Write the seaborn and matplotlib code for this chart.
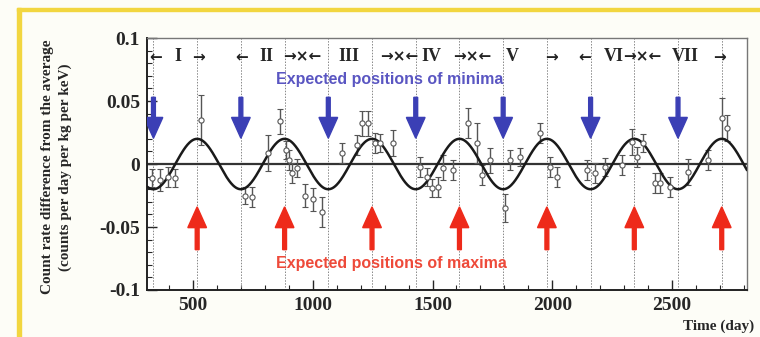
import numpy as np
import pandas as pd
import matplotlib
matplotlib.use("Agg")
import matplotlib.pyplot as plt
from matplotlib.patches import Rectangle, FancyArrow
import seaborn as sns

# Residual rate measurements: time (day), residual (cpd/kg/keV), error
days = [329, 362, 396, 425, 533, 717, 746, 813, 863, 888, 901, 913, 934, 968,
        1001, 1039, 1122, 1185, 1206, 1231, 1260, 1281, 1335, 1448, 1477, 1498,
        1523, 1544, 1586, 1648, 1686, 1707, 1740, 1803, 1824, 1865, 1949, 1991,
        2020, 2145, 2179, 2220, 2291, 2333, 2354, 2379, 2429, 2450, 2492, 2567,
        2650, 2709, 2730]
residuals = [-0.011, -0.0127, -0.0103, -0.011, 0.035, -0.025, -0.026, 0.0087,
             0.034, 0.011, 0.003, -0.007, -0.003, -0.025, -0.028, -0.038,
             0.009, 0.015, 0.0325, 0.0325, 0.0167, 0.0167, 0.0167, -0.0024,
             -0.0103, -0.019, -0.018, -0.003, -0.005, 0.0325, 0.0167, -0.009,
             0.003, -0.035, 0.003, 0.0056, 0.0246, -0.0024, -0.0103, -0.0048,
             -0.007, -0.0024, -0.0008, 0.0175, 0.0056, 0.0167, -0.015, -0.015,
             -0.018, -0.0063, 0.003, 0.0365, 0.0286]
errors = [0.007, 0.009, 0.008, 0.007, 0.02, 0.007, 0.008, 0.014, 0.01, 0.007,
          0.008, 0.008, 0.007, 0.009, 0.009, 0.012, 0.008, 0.008, 0.01, 0.01,
          0.008, 0.007, 0.01, 0.008, 0.007, 0.007, 0.008, 0.01, 0.008, 0.012,
          0.016, 0.008, 0.01, 0.011, 0.008, 0.007, 0.008, 0.008, 0.008, 0.008,
          0.008, 0.007, 0.008, 0.01, 0.008, 0.007, 0.008, 0.008, 0.008, 0.01,
          0.008, 0.016, 0.01]

# Expected annual modulation: A cos(2*pi/T (t - t0))
amplitude = 0.0200
period = 365.0
phase = 152.5
maxima = [517.5, 882.5, 1247.5, 1612.5, 1977.5, 2342.5, 2707.5]
minima = [335, 700, 1065, 1430, 1795, 2160, 2525]

# Annual cycle numerals and the arrows marking each cycle's span
cycle_numerals = [(435, "I"), (805, "II"), (1150, "III"), (1495, "IV"),
                  (1835, "V"), (2255, "VI"), (2555, "VII")]
cycle_arrows = [(345, "←"), (525, "→"), (705, "←"), (955, "→×←"),
                (1360, "→×←"), (1665, "→×←"), (1995, "→"),
                (2135, "←"), (2375, "→×←"), (2700, "→")]

x_ticks = [500, 1000, 1500, 2000, 2500]
y_ticks = [-0.1, -0.05, 0, 0.05, 0.1]
y_tick_labels = ["-0.1", "-0.05", "0", "0.05", "0.1"]

sns.set_style("ticks")
serif = ["Liberation Serif", "DejaVu Serif"]
plt.rcParams["font.family"] = serif

fig = plt.figure(figsize=(7.6, 3.37), dpi=100)
fig.patch.set_facecolor("#fdfdf7")
# golden frame on the left and top edges
fig.add_artist(Rectangle((0.023, 0.0), 0.005, 0.975, transform=fig.transFigure,
                         color="#f2d640", zorder=0))
fig.add_artist(Rectangle((0.023, 0.966), 0.977, 0.01, transform=fig.transFigure,
                         color="#f2d640", zorder=0))

ax = fig.add_axes([0.1934, 0.1395, 0.7895, 0.7475])
ax.set_facecolor("white")

xmin, xmax = 308, 2813
ax.set_xlim(xmin, xmax)
ax.set_ylim(-0.1, 0.1)

# guide lines at expected maxima and minima
for t in maxima + minima:
    ax.axvline(t, color="#888888", lw=0.7, ls=(0, (1.5, 1.5)), zorder=1)

ax.axhline(0, color="#333333", lw=1.6, zorder=2)

# model curve
t_curve = np.linspace(xmin, xmax, 1200)
curve = pd.DataFrame({"t": t_curve,
                      "r": amplitude * np.cos(2 * np.pi / period * (t_curve - phase))})
sns.lineplot(data=curve, x="t", y="r", color="#1a1a1a", lw=1.8, ax=ax, zorder=4)

# measured points
data = pd.DataFrame({"day": days, "res": residuals, "err": errors})
ax.errorbar(data["day"], data["res"], yerr=data["err"], fmt="none",
            ecolor="#555555", elinewidth=1.0, capsize=2.5, capthick=0.8, zorder=3)
sns.scatterplot(data=data, x="day", y="res", ax=ax, s=14, marker="o",
                facecolor="white", edgecolor="#555555", linewidth=0.8, zorder=5)

# expected minima (blue, pointing down) and maxima (red, pointing up)
for t in minima:
    ax.add_patch(FancyArrow(t, 0.053, 0, -0.0325, width=16, head_width=78,
                            head_length=0.0165, length_includes_head=True,
                            color="#3b3fb5", zorder=6))
for t in maxima:
    ax.add_patch(FancyArrow(t, -0.068, 0, 0.034, width=16, head_width=78,
                            head_length=0.0165, length_includes_head=True,
                            color="#ee2a1a", zorder=6))

sans = ["Liberation Sans", "DejaVu Sans"]
ax.text(1323, 0.0675, "Expected positions of minima", color="#5a56c2",
        fontsize=11.5, fontweight="bold", family=sans, ha="center", va="center")
ax.text(1327, -0.0786, "Expected positions of maxima", color="#ee4a3a",
        fontsize=11.5, fontweight="bold", family=sans, ha="center", va="center")

for t, s in cycle_numerals:
    ax.text(t, 0.085, s, fontsize=13, fontweight="bold", ha="center",
            va="center", family=serif)
for t, s in cycle_arrows:
    ax.text(t, 0.085, s, fontsize=11, fontweight="bold", ha="center",
            va="center", family=["DejaVu Sans"], color="#222222")

ax.set_xticks(x_ticks)
ax.set_xticklabels([str(v) for v in x_ticks])
ax.set_xticks(np.arange(400, 2801, 100), minor=True)
ax.set_yticks(y_ticks)
ax.set_yticklabels(y_tick_labels)
ax.set_yticks(np.arange(-0.1, 0.1001, 0.01), minor=True)
ax.tick_params(axis="both", which="major", direction="in", length=7, width=1,
               labelsize=14, pad=5)
ax.tick_params(axis="both", which="minor", direction="in", length=3.5, width=0.8)
ax.tick_params(axis="y", which="both", right=False)
for lab in ax.get_xticklabels() + ax.get_yticklabels():
    lab.set_fontweight("bold")

for side in ["left", "bottom"]:
    ax.spines[side].set_linewidth(1.4)
    ax.spines[side].set_color("#222222")
for side in ["top", "right"]:
    ax.spines[side].set_linewidth(1.0)
    ax.spines[side].set_color("#777777")

ax.set_xlabel("")
ax.set_ylabel("")
fig.text(0.062, 0.505, "Count rate difference from the average",
         rotation=90, ha="center", va="center", fontsize=11, fontweight="bold")
fig.text(0.086, 0.505, "(counts per day per kg per keV)",
         rotation=90, ha="center", va="center", fontsize=11, fontweight="bold")
fig.text(0.945, 0.033, "Time (day)", ha="center", va="center",
         fontsize=11, fontweight="bold")

fig.savefig("out.png", dpi=100, facecolor=fig.get_facecolor())
